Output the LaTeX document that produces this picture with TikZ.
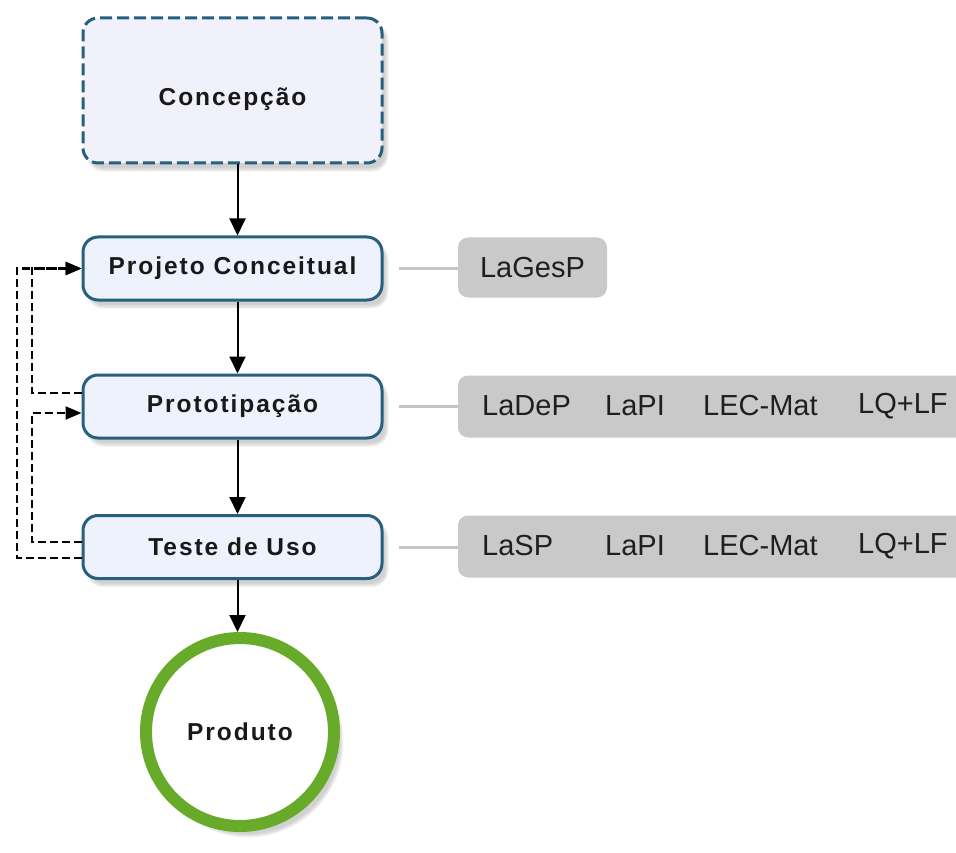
\documentclass[tikz,border=0pt]{standalone}
\usepackage{fontspec}
\setmainfont{Liberation Sans}
\newfontfamily\boldtrack[LetterSpace=8]{Liberation Sans Bold}
\usetikzlibrary{arrows.meta,calc,shadows.blur}
\definecolor{boxedge}{HTML}{285F7E}
\definecolor{boxfill}{HTML}{EDF2FC}
\definecolor{conceptfill}{HTML}{F0F1FB}
\definecolor{graybox}{HTML}{C9C9C9}
\definecolor{grayline}{HTML}{C4C4C4}
\definecolor{ringgreen}{HTML}{68AA2A}
\tikzset{
  proc/.style={draw=boxedge, line width=3pt, fill=boxfill, rounded corners=15pt,
    minimum width=299pt, minimum height=63pt, inner sep=0pt,
    font=\boldtrack\fontsize{24.5}{28}\selectfont, text=black!90,
    blur shadow={shadow xshift=5pt, shadow yshift=-7pt, shadow opacity=18, shadow blur steps=8}},
  concept/.style={proc, dash pattern=on 12pt off 5pt, fill=conceptfill, minimum height=145pt},
  endnode/.style={circle, draw=ringgreen, line width=12pt, fill=white, minimum size=188pt,
    inner sep=0pt, font=\boldtrack\fontsize{24.5}{28}\selectfont, text=black!90,
    blur shadow={shadow xshift=8pt, shadow yshift=-10pt, shadow opacity=18, shadow blur steps=10}},
  labbox/.style={fill=graybox, rounded corners=10pt, inner sep=0pt},
  labtext/.style={anchor=west, inner sep=0pt, font=\fontsize{29}{33}\selectfont, text=black!88},
  flow/.style={line width=2pt, -{Triangle[length=17pt,width=16pt]}},
  fb/.style={line width=2pt, dash pattern=on 8pt off 4pt, -{Triangle[length=16pt,width=13pt]}},
  gline/.style={draw=grayline, line width=3pt}
}
\begin{document}
\begin{tikzpicture}[x=1pt,y=-1pt]
\useasboundingbox (0,0) rectangle (956,853);
% main flow nodes
\node[concept] (co) at (232.5,90.5) {\raisebox{-15pt}[0pt][0pt]{Concepção}};
\node[proc] (pc) at (232.5,268.5) {Projeto Conceitual};
\node[proc] (pr) at (232.5,406.5) {Prototipação};
\node[proc] (tu) at (232.5,547) {Teste de Uso};
\node[endnode] (pd) at (240,732) {Produto};
% flow arrows
\draw[flow] ($(co.south)+(5,0)$) -- ($(pc.north)+(5,0)$);
\draw[flow] ($(pc.south)+(5,0)$) -- ($(pr.north)+(5,0)$);
\draw[flow] ($(pr.south)+(5,0)$) -- ($(tu.north)+(5,0)$);
\draw[flow] ($(tu.south)+(5,0)$) -- (pd.north -| {$(tu.south)+(5,0)$});
% feedback loops
\draw[fb] ($(pr.west)+(0,-13.5)$) -- ++(-50,0) |- (pc.west);
\draw[fb] ($(tu.west)+(0,-5)$) -- ++(-50,0) |- ($(pr.west)+(0,6.5)$);
\draw[fb] ($(tu.west)+(0,11)$) -- ++(-65,0) |- (pc.west);
% gray label boxes
\node[labbox, minimum width=149pt, minimum height=60pt] (lg) at (532.5,267.5) {};
\node[labtext, anchor=center] (t1) at (lg.center) {LaGesP};
\node[labbox, minimum width=510pt, minimum height=62pt] (lb2) at (713,406.5) {};
\node[labtext] (t2a) at (482,406) {LaDeP};
\node[labtext] (t2b) at (605,406) {LaPI};
\node[labtext] (t2c) at (703,406) {LEC-Mat};
\node[labtext] (t2d) at (858,406) {LQ+LF};
\node[labbox, minimum width=510pt, minimum height=62pt] (lb3) at (713,546.5) {};
\node[labtext] (t3a) at (482,546) {LaSP};
\node[labtext] (t3b) at (605,546) {LaPI};
\node[labtext] (t3c) at (703,546) {LEC-Mat};
\node[labtext] (t3d) at (858,546) {LQ+LF};
% gray connectors
\draw[gline, shorten <=15pt] (pc.east) -- (pc.east -| lg.west);
\draw[gline, shorten <=15pt] (pr.east) -- (pr.east -| lb2.west);
\draw[gline, shorten <=15pt] (tu.east) -- (tu.east -| lb3.west);
\end{tikzpicture}
\end{document}
